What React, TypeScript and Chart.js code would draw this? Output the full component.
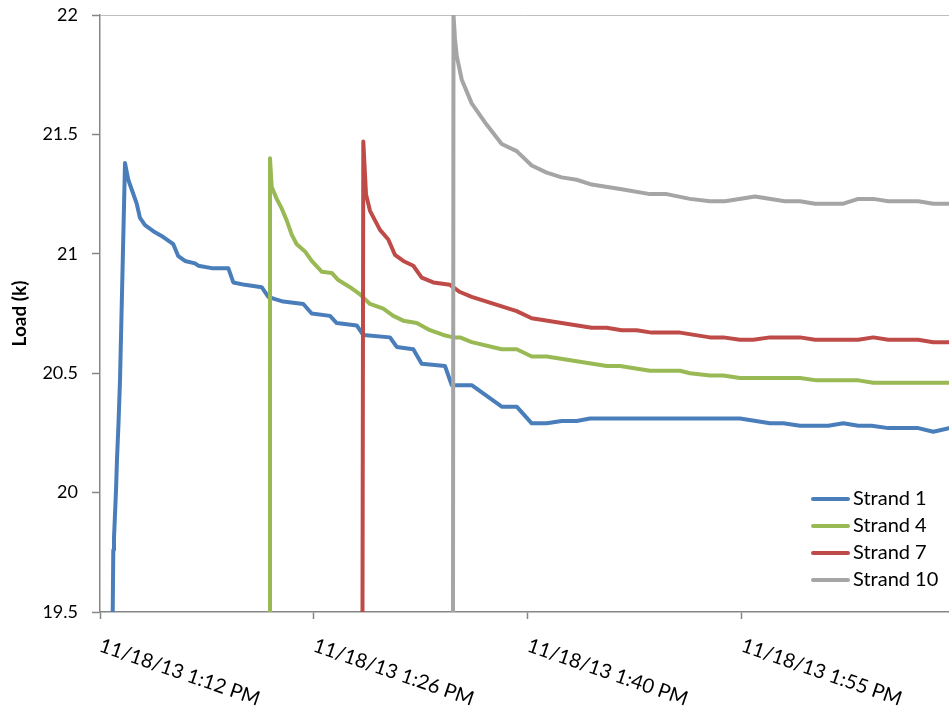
import React, { useEffect, useRef } from 'react';
import { Chart, registerables } from 'chart.js';

Chart.register(...registerables);

const FONT = 'Lato, "Open Sans", sans-serif';
const AXIS = '#868686';

// x values: minutes after 11/18/13 1:12 PM
const X_MAX = 57.13;
const TICK_MINUTES = [0, 14.4, 28.8, 43.2];
const X_TICK_LABELS = ['11/18/13 1:12 PM', '11/18/13 1:26 PM', '11/18/13 1:40 PM', '11/18/13 1:55 PM'];
const Y_TICKS = [19.5, 20, 20.5, 21, 21.5, 22];

const s1Time = [0.855, 0.895, 0.942, 0.976, 1.077, 1.144, 1.245, 1.346, 1.682, 1.904, 2.47, 2.692, 3.028, 3.701, 4.26, 4.932, 5.269, 5.72, 6.393, 6.615, 7.516, 8.634, 8.97, 9.757, 10.881, 11.325, 11.776, 12.334, 13.68, 14.245, 15.477, 15.928, 17.274, 17.718, 19.514, 19.965, 21.082, 21.647, 23.215, 23.666, 25.012, 27.031, 28.04, 29.05, 30.059, 31.068, 32.078, 32.973, 40.374, 43.066, 45.085, 45.98, 47.104, 49.008, 50.017, 51.026, 51.928, 53.045, 55.064, 56.073, 57.129];
const s1Load = [19.5, 19.76, 19.81, 19.86, 20.01, 20.14, 20.29, 20.47, 21.38, 21.31, 21.21, 21.15, 21.12, 21.09, 21.07, 21.04, 20.99, 20.97, 20.96, 20.95, 20.94, 20.94, 20.88, 20.87, 20.86, 20.82, 20.81, 20.8, 20.79, 20.75, 20.74, 20.71, 20.7, 20.66, 20.65, 20.61, 20.6, 20.54, 20.53, 20.45, 20.45, 20.36, 20.36, 20.29, 20.29, 20.3, 20.3, 20.31, 20.31, 20.31, 20.29, 20.29, 20.28, 20.28, 20.29, 20.28, 20.28, 20.27, 20.27, 20.255, 20.27];

const s4Time = [11.392, 11.439, 11.554, 11.89, 12.227, 12.563, 12.9, 13.236, 13.795, 14.245, 14.918, 15.591, 16.035, 16.823, 17.495, 18.168, 19.063, 19.736, 20.409, 21.311, 22.206, 23.101, 23.774, 24.225, 25.012, 27.031, 28.04, 29.05, 30.059, 32.078, 34.096, 34.991, 37.01, 39.028, 39.701, 41.047, 41.942, 43.066, 47.104, 48.227, 51.026, 52.036, 57.129];
const s4Load = [19.5, 21.4, 21.28, 21.23, 21.19, 21.14, 21.08, 21.04, 21.01, 20.97, 20.925, 20.92, 20.89, 20.86, 20.83, 20.79, 20.77, 20.74, 20.72, 20.71, 20.68, 20.66, 20.65, 20.65, 20.63, 20.6, 20.6, 20.57, 20.57, 20.55, 20.53, 20.53, 20.51, 20.51, 20.5, 20.49, 20.49, 20.48, 20.48, 20.47, 20.47, 20.46, 20.46];

const s7Time = [17.664, 17.718, 17.899, 18.168, 18.505, 18.841, 19.4, 19.851, 20.409, 21.082, 21.647, 22.428, 23.551, 24.225, 25.012, 28.04, 29.05, 31.068, 33.087, 34.096, 35.105, 36.115, 37.124, 39.028, 41.047, 41.942, 43.066, 43.961, 45.085, 47.104, 48.113, 51.026, 52.036, 53.045, 55.064, 56.073, 57.129];
const s7Load = [19.5, 21.47, 21.25, 21.18, 21.14, 21.1, 21.06, 20.995, 20.97, 20.95, 20.9, 20.88, 20.87, 20.84, 20.82, 20.76, 20.73, 20.71, 20.69, 20.69, 20.68, 20.68, 20.67, 20.67, 20.65, 20.65, 20.64, 20.64, 20.65, 20.65, 20.64, 20.64, 20.65, 20.64, 20.64, 20.63, 20.63];

const s10Time = [23.753, 23.787, 23.888, 24.002, 24.339, 25.012, 25.907, 27.031, 28.04, 29.05, 30.059, 31.068, 32.078, 33.087, 35.105, 37.01, 38.133, 39.701, 41.047, 42.056, 44.075, 46.093, 47.104, 48.113, 50.017, 51.026, 52.036, 53.045, 55.064, 56.073, 57.129];
const s10Load = [19.5, 22.0, 21.9, 21.83, 21.73, 21.63, 21.55, 21.46, 21.43, 21.37, 21.34, 21.32, 21.31, 21.29, 21.27, 21.25, 21.25, 21.23, 21.22, 21.22, 21.24, 21.22, 21.22, 21.21, 21.21, 21.23, 21.23, 21.22, 21.22, 21.21, 21.21];

const SERIES_NAMES = ['Strand 1', 'Strand 4', 'Strand 7', 'Strand 10'];
const SERIES_COLORS = ['#4A7EBB', '#98B954', '#BE4B48', '#A5A5A5'];
const SERIES_TIMES = [s1Time, s4Time, s7Time, s10Time];
const SERIES_LOADS = [s1Load, s4Load, s7Load, s10Load];

const overlayPlugin = {
  id: 'overlay',
  afterDraw(chart: any) {
    const { ctx } = chart;
    const xs = chart.scales.x;
    ctx.save();
    ctx.fillStyle = '#000';
    ctx.font = `20px ${FONT}`;
    ctx.textAlign = 'left';
    ctx.textBaseline = 'alphabetic';
    TICK_MINUTES.forEach((v, i) => {
      const px = xs.getPixelForValue(v);
      ctx.save();
      ctx.translate(px - 2, 651);
      ctx.rotate((19 * Math.PI) / 180);
      ctx.fillText(X_TICK_LABELS[i], 0, 0);
      ctx.restore();
    });
    // legend
    ctx.textBaseline = 'middle';
    SERIES_NAMES.forEach((name, i) => {
      const y = 499 + i * 27;
      ctx.strokeStyle = SERIES_COLORS[i];
      ctx.lineWidth = 4;
      ctx.lineCap = 'round';
      ctx.beginPath();
      ctx.moveTo(813, y);
      ctx.lineTo(848, y);
      ctx.stroke();
      ctx.fillText(name, 853, y);
    });
    ctx.restore();
  },
};

export default function App() {
  const ref = useRef<HTMLCanvasElement>(null);
  useEffect(() => {
    if (!ref.current) return;
    const datasets = SERIES_NAMES.map((name, i) => ({
      label: name,
      data: SERIES_TIMES[i].map((t, j) => ({ x: t, y: SERIES_LOADS[i][j] })),
      borderColor: SERIES_COLORS[i],
      backgroundColor: SERIES_COLORS[i],
      borderWidth: 4,
      pointRadius: 0,
      tension: 0,
      fill: false,
      borderJoinStyle: 'round' as const,
      borderCapStyle: 'round' as const,
      order: SERIES_NAMES.length - i,
    }));
    const chart = new Chart(ref.current, {
      type: 'line',
      data: { datasets },
      options: {
        responsive: false,
        animation: false,
        devicePixelRatio: 1,
        layout: { padding: { top: 15, right: 0, left: 0, bottom: 0 } },
        plugins: { legend: { display: false }, tooltip: { enabled: false } },
        scales: {
          x: {
            type: 'linear',
            min: 0,
            max: X_MAX,
            afterBuildTicks: (s: any) => {
              s.ticks = TICK_MINUTES.map((v) => ({ value: v }));
            },
            afterFit: (s: any) => {
              s.height = 98;
              s.paddingLeft = 0;
              s.paddingRight = 0;
            },
            ticks: { callback: () => '', autoSkip: false, maxRotation: 0 },
            grid: { drawOnChartArea: false, drawTicks: true, tickLength: 7, color: AXIS, tickWidth: 1.5 },
            border: { display: true, color: AXIS, width: 1.5 },
          },
          y: {
            type: 'linear',
            min: 19.5,
            max: 22,
            afterBuildTicks: (s: any) => {
              s.ticks = Y_TICKS.map((v) => ({ value: v }));
            },
            afterFit: (s: any) => {
              s.width = 100;
              s.paddingTop = 0;
              s.paddingBottom = 0;
            },
            ticks: {
              callback: (v: any) => String(v),
              font: { family: FONT, size: 18 },
              color: '#000',
              padding: 14,
            },
            grid: {
              drawOnChartArea: true,
              color: (c: any) => (c.tick && c.tick.value === 22 ? '#BFBFBF' : 'rgba(0,0,0,0)'),
              tickColor: AXIS,
              tickLength: 8,
              lineWidth: 1,
              tickWidth: 1.5,
            },
            border: { display: true, color: AXIS, width: 1.5 },
            title: {
              display: true,
              text: 'Load (k)',
              font: { family: FONT, size: 19, weight: 'bold' },
              color: '#000',
              padding: { top: 8, bottom: 0 },
            },
          },
        },
      },
      plugins: [overlayPlugin],
    });
    return () => chart.destroy();
  }, []);
  return (
    <div style={{ position: 'absolute', left: 0, top: 0, width: 949, height: 710, background: '#fff' }}>
      <canvas ref={ref} width={949} height={710} style={{ display: 'block' }} />
    </div>
  );
}
